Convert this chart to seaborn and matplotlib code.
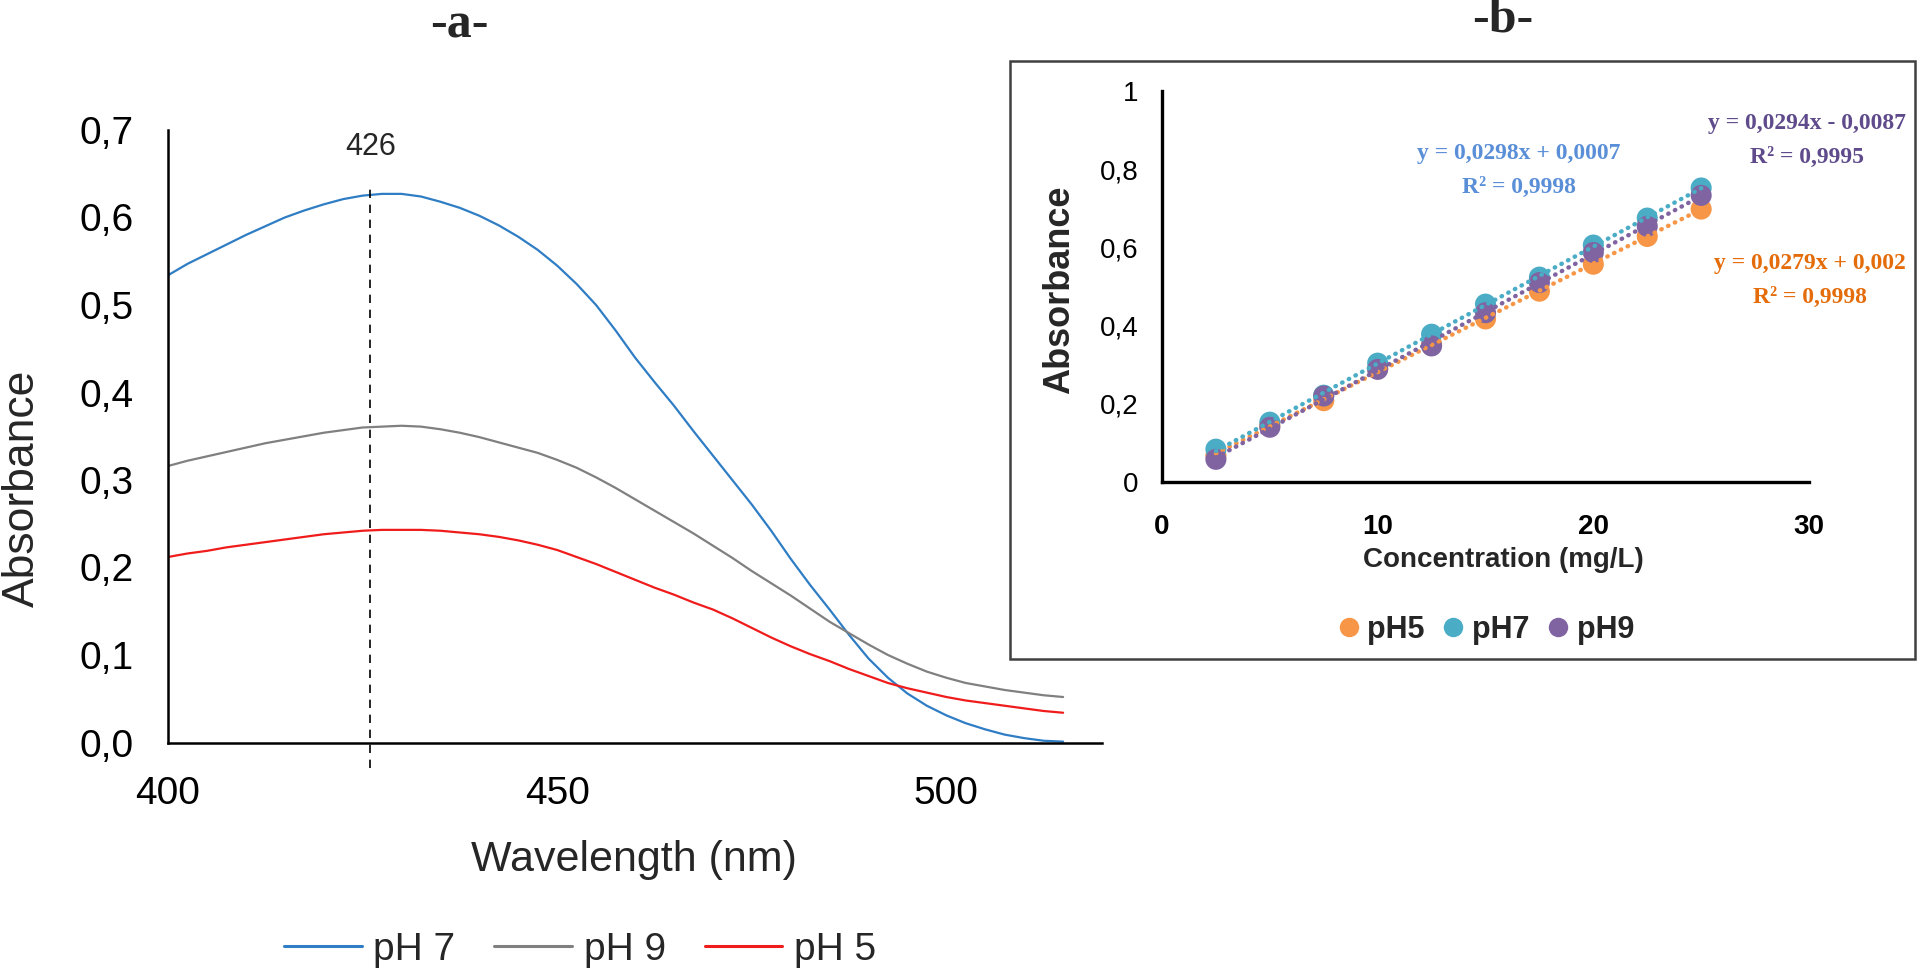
import numpy as np
import pandas as pd
import matplotlib
matplotlib.use("Agg")
import matplotlib.pyplot as plt
import seaborn as sns
from matplotlib.lines import Line2D
from matplotlib.patches import Rectangle
from matplotlib.ticker import FuncFormatter, FixedLocator

# ---------------- data: panel a (UV-Vis spectra) ----------------
wavelength = [400, 402.5, 405, 407.5, 410, 412.5, 415, 417.5, 420, 422.5, 425, 427.5,
              430, 432.5, 435, 437.5, 440, 442.5, 445, 447.5, 450, 452.5, 455, 457.5,
              460, 462.5, 465, 467.5, 470, 472.5, 475, 477.5, 480, 482.5, 485, 487.5,
              490, 492.5, 495, 497.5, 500, 502.5, 505, 507.5, 510, 512.5, 515]
abs_ph7 = [0.534, 0.547, 0.558, 0.569, 0.580, 0.590, 0.600, 0.608, 0.615, 0.621, 0.625, 0.627,
           0.627, 0.624, 0.618, 0.611, 0.602, 0.591, 0.578, 0.563, 0.545, 0.524, 0.500, 0.471,
           0.440, 0.412, 0.385, 0.356, 0.328, 0.300, 0.272, 0.242, 0.210, 0.180, 0.152, 0.123,
           0.096, 0.074, 0.056, 0.042, 0.031, 0.022, 0.015, 0.009, 0.005, 0.002, 0.001]
abs_ph9 = [0.316, 0.322, 0.327, 0.332, 0.337, 0.342, 0.346, 0.350, 0.354, 0.357, 0.360, 0.361,
           0.362, 0.361, 0.358, 0.354, 0.349, 0.343, 0.337, 0.331, 0.323, 0.314, 0.303, 0.291,
           0.278, 0.265, 0.252, 0.239, 0.225, 0.211, 0.196, 0.182, 0.168, 0.153, 0.138, 0.125,
           0.112, 0.100, 0.090, 0.081, 0.074, 0.068, 0.064, 0.060, 0.057, 0.054, 0.052]
abs_ph5 = [0.212, 0.216, 0.219, 0.223, 0.226, 0.229, 0.232, 0.235, 0.238, 0.240, 0.242, 0.243,
           0.243, 0.243, 0.242, 0.240, 0.238, 0.235, 0.231, 0.226, 0.220, 0.212, 0.204, 0.195,
           0.186, 0.177, 0.169, 0.160, 0.152, 0.142, 0.131, 0.120, 0.110, 0.101, 0.093, 0.084,
           0.076, 0.068, 0.062, 0.057, 0.052, 0.048, 0.045, 0.042, 0.039, 0.036, 0.034]
spec_labels = ["pH 7", "pH 9", "pH 5"]
peak_nm = 426
xticks_a = [400, 450, 500]
yticks_a = [0.0, 0.1, 0.2, 0.3, 0.4, 0.5, 0.6, 0.7]

# ---------------- data: panel b (calibration) ----------------
conc = [2.5, 5, 7.5, 10, 12.5, 15, 17.5, 20, 22.5, 25]
cal_ph5 = [0.068, 0.145, 0.208, 0.290, 0.352, 0.417, 0.488, 0.557, 0.628, 0.698]
cal_ph7 = [0.084, 0.153, 0.222, 0.304, 0.378, 0.455, 0.524, 0.606, 0.675, 0.752]
cal_ph9 = [0.058, 0.140, 0.220, 0.288, 0.348, 0.433, 0.510, 0.587, 0.654, 0.733]
cal_labels = ["pH5", "pH7", "pH9"]
eq_ph7 = ["y = 0,0298x + 0,0007", "R² = 0,9998"]
eq_ph9 = ["y = 0,0294x - 0,0087", "R² = 0,9995"]
eq_ph5 = ["y = 0,0279x + 0,002", "R² = 0,9998"]
xticks_b = [0, 10, 20, 30]
yticks_b = [0, 0.2, 0.4, 0.6, 0.8, 1.0]

# ---------------- style ----------------
sns.set_style("white")
plt.rcParams['font.family'] = ['Liberation Sans', 'DejaVu Sans']

spec_colors = {"pH 7": "#2F7DC4", "pH 9": "#808080", "pH 5": "#F01C1C"}
cal_colors = {"pH5": "#F79646", "pH7": "#4BACC6", "pH9": "#8064A2"}
eq_colors = {"pH7": "#5A8FD8", "pH9": "#5F4B8B", "pH5": "#E46C0A"}

W, H = 1920, 976
fig = plt.figure(figsize=(W / 100, H / 100), dpi=100)

def fx(px):
    return px / W

def fy(py):
    return 1 - py / H

comma = lambda v, d: (f"{v:.{d}f}").replace(".", ",")

# ---------------- panel a ----------------
axa = fig.add_axes([fx(168), fy(742.5), fx(1102) - fx(168), fy(130) - fy(742.5)])
n = len(wavelength)
df_spec = pd.DataFrame({
    "wl": wavelength * 3,
    "abs": abs_ph7 + abs_ph9 + abs_ph5,
    "pH": [spec_labels[0]] * n + [spec_labels[1]] * n + [spec_labels[2]] * n,
})
sns.lineplot(data=df_spec, x="wl", y="abs", hue="pH", hue_order=spec_labels,
             palette=spec_colors, linewidth=1.6, legend=False, ax=axa)
axa.set_xlim(400, 520)
axa.set_ylim(0, 0.7)
axa.xaxis.set_major_locator(FixedLocator(xticks_a))
axa.yaxis.set_major_locator(FixedLocator(yticks_a))
axa.yaxis.set_major_formatter(FuncFormatter(lambda v, p: comma(v, 1)))
axa.xaxis.set_major_formatter(FuncFormatter(lambda v, p: f"{v:.0f}"))
for s in ["top", "right"]:
    axa.spines[s].set_visible(False)
for s in ["left", "bottom"]:
    axa.spines[s].set_linewidth(1.8)
    axa.spines[s].set_color("black")
axa.tick_params(axis="both", direction="out", length=8, width=1.8, colors="black",
                labelsize=28)
axa.tick_params(axis="y", pad=17)
axa.tick_params(axis="x", pad=16)
axa.set_xlabel("Wavelength (nm)", fontsize=31)
axa.set_ylabel("Absorbance", fontsize=32)
axa.xaxis.set_label_coords(0.499, -0.192)
axa.xaxis.label.set_va("center")
axa.yaxis.set_label_coords(-0.156, 0.415)
axa.yaxis.label.set_va("center")
axa.vlines(peak_nm, -0.029, 0.635, colors="black", linestyles=(0, (5, 4)),
           linewidth=1.2, clip_on=False)
axa.text(peak_nm, 0.681, str(peak_nm), ha="center", va="center", fontsize=22,
         clip_on=False)

handles_a = [Line2D([], [], color=spec_colors[l], lw=2.2) for l in spec_labels]
fig.legend(handles_a, spec_labels, loc="center", bbox_to_anchor=(fx(580), fy(950)),
           ncol=3, frameon=False, fontsize=28, handlelength=2.0, handletextpad=0.3,
           columnspacing=1.0)

fig.text(fx(459), fy(25), "-a-", ha="center", va="center", fontsize=36,
         fontweight="bold", family="Liberation Serif")
fig.text(fx(1503), fy(20), "-b-", ha="center", va="center", fontsize=36,
         fontweight="bold", family="Liberation Serif")

# ---------------- panel b ----------------
fig.patches.append(Rectangle((fx(1010), fy(659)), fx(1915) - fx(1010), fy(61) - fy(659),
                             transform=fig.transFigure, fill=False, lw=1.8,
                             ec="#404040", zorder=0))
axb = fig.add_axes([fx(1162), fy(482), fx(1809) - fx(1162), fy(91) - fy(482)])
axb.patch.set_alpha(0)
m = len(conc)
df_cal = pd.DataFrame({
    "conc": conc * 3,
    "abs": cal_ph5 + cal_ph7 + cal_ph9,
    "pH": [cal_labels[0]] * m + [cal_labels[1]] * m + [cal_labels[2]] * m,
})
sns.scatterplot(data=df_cal, x="conc", y="abs", hue="pH", hue_order=cal_labels,
                palette=cal_colors, s=230, edgecolor="none", legend=False, ax=axb, zorder=2)
for lab, vals in zip(cal_labels, [cal_ph5, cal_ph7, cal_ph9]):
    sns.regplot(x=conc, y=vals, scatter=False, ci=None, truncate=True, ax=axb,
                line_kws=dict(color=cal_colors[lab], lw=3.2, ls=(0, (0.1, 1.6)),
                              dash_capstyle="round", zorder=3))
axb.set_xlim(0, 30)
axb.set_ylim(0, 1)
axb.set_xlabel("")
axb.set_ylabel("")
axb.xaxis.set_major_locator(FixedLocator(xticks_b))
axb.yaxis.set_major_locator(FixedLocator(yticks_b))
axb.yaxis.set_major_formatter(FuncFormatter(lambda v, p: "0" if v == 0 else ("1" if v == 1 else comma(v, 1))))
axb.xaxis.set_major_formatter(FuncFormatter(lambda v, p: f"{v:.0f}"))
for s in ["top", "right"]:
    axb.spines[s].set_visible(False)
for s in ["left", "bottom"]:
    axb.spines[s].set_linewidth(2.4)
    axb.spines[s].set_color("black")
axb.tick_params(axis="both", direction="out", length=7, width=2.0, colors="black",
                labelsize=20)
axb.tick_params(axis="y", pad=10)
axb.tick_params(axis="x", pad=16)
for t in axb.get_xticklabels():
    t.set_fontweight("bold")
axb.set_xlabel("Concentration (mg/L)", fontsize=20, fontweight="bold")
axb.set_ylabel("Absorbance", fontsize=26, fontweight="bold")
axb.xaxis.set_label_coords(0.528, -0.2)
axb.xaxis.label.set_va("center")
axb.yaxis.set_label_coords(-0.158, 0.491)
axb.yaxis.label.set_va("center")

def put_eq(lines, xc, y1, y2, color):
    for txt, yy in zip(lines, [y1, y2]):
        axb.text(xc, yy, txt, ha="center", va="center", fontsize=17, fontweight="bold",
                 color=color, family="Liberation Serif", clip_on=False)

put_eq(eq_ph7, (1519 - 1162) / 21.57, (482 - 153) / 391, (482 - 187) / 391, eq_colors["pH7"])
put_eq(eq_ph9, (1807 - 1162) / 21.57, (482 - 123) / 391, (482 - 157) / 391, eq_colors["pH9"])
put_eq(eq_ph5, (1810 - 1162) / 21.57, (482 - 263) / 391, (482 - 297) / 391, eq_colors["pH5"])

handles_b = [Line2D([], [], ls="none", marker="o", markersize=14, markeredgewidth=0,
                    color=cal_colors[l]) for l in cal_labels]
fig.legend(handles_b, cal_labels, loc="center", bbox_to_anchor=(fx(1486), fy(630)),
           ncol=3, frameon=False, prop=dict(size=22, weight="bold"), handlelength=0.7,
           handletextpad=0.25, columnspacing=0.6)

fig.savefig("out.png", dpi=100)
